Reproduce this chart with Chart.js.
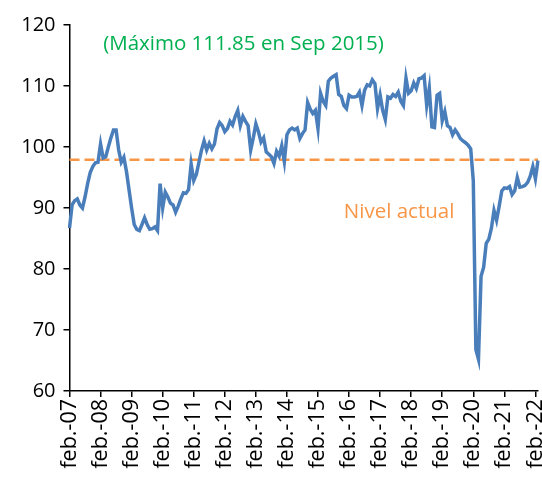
<!DOCTYPE html>
<html>
<head>
<meta charset="utf-8">
<script src="https://cdn.jsdelivr.net/npm/chart.js@4"></script>
<style>
  html, body { margin: 0; padding: 0; background: #fff; }
  #wrap { width: 542px; height: 481px; }
</style>
</head>
<body>
<div id="wrap"><canvas id="c" width="542" height="481"></canvas></div>
<script>
// ---- data ----
const monthNames = ['ene.','feb.','mar.','abr.','may.','jun.','jul.','ago.','sep.','oct.','nov.','dic.'];
const startYear = 2007;   // series starts feb-07
const startMonth = 1;     // index into monthNames
const values = [
  86.7, 90.5, 91.2, 91.5, 90.5, 90.0, 91.8, 94.0, 95.8, 96.8, 97.4, 97.5,
  100.5, 98.2, 98.4, 100.0, 101.5, 102.8, 102.8, 99.5, 97.5, 98.3, 96.0, 93.0,
  90.0, 87.3, 86.5, 86.3, 87.3, 88.4, 87.3, 86.5, 86.6, 86.9, 86.3, 94.0,
  90.0, 92.6, 91.8, 90.8, 90.5, 89.3, 90.3, 91.5, 92.5, 92.4, 93.0, 97.2,
  94.5, 95.5, 97.5, 99.5, 101.0, 99.5, 100.6, 99.7, 100.5, 103.0, 104.0, 103.5,
  102.5, 103.0, 104.2, 103.6, 105.0, 106.0, 103.5, 105.0, 104.2, 103.5, 99.5, 101.5,
  103.8, 102.5, 100.8, 101.5, 99.2, 98.8, 98.4, 97.3, 99.3, 98.5, 100.2, 97.6,
  102.0, 102.8, 103.1, 102.8, 103.1, 101.4, 102.2, 102.8, 107.3, 106.2, 105.5, 106.0,
  103.0, 108.8, 107.5, 106.8, 110.8, 111.3, 111.6, 111.85, 108.6, 108.3, 106.8, 106.3,
  108.5, 108.2, 108.2, 108.3, 109.0, 106.8, 109.3, 110.2, 110.0, 111.0, 110.4, 106.3,
  108.5, 106.0, 104.5, 108.2, 108.0, 108.6, 108.3, 109.0, 107.5, 106.8, 111.3, 108.8,
  109.2, 110.5, 109.6, 111.2, 111.3, 111.7, 106.8, 109.6, 103.3, 103.2, 108.5, 108.8,
  104.3, 105.8, 103.5, 103.2, 102.0, 102.8, 102.2, 101.4, 101.0, 100.7, 100.3, 99.7,
  94.5, 66.8, 65.2, 78.8, 80.3, 84.2, 84.9, 86.7, 89.6, 88.0, 90.3, 92.8,
  93.3, 93.2, 93.5, 92.2, 92.8, 95.0, 93.4, 93.5, 93.7, 94.2, 95.2, 96.8,
  94.8, 97.8
];
const nivelActual = 97.9;
const yMin = 60, yMax = 120, yStep = 10;
const maxText = '(Máximo 111.85 en Sep 2015)';
const nivelText = 'Nivel actual';

const labels = values.map((v, i) => {
  const m = startMonth + i;
  const mi = m % 12;
  const yy = (startYear + Math.floor(m / 12)) % 100;
  return monthNames[mi] + '-' + String(yy).padStart(2, '0');
});

const FONT = "'Open Sans', 'Noto Sans', sans-serif";

const textPlugin = {
  id: 'texts',
  afterDatasetsDraw(chart) {
    const { ctx } = chart;
    const xs = chart.scales.x, ys = chart.scales.y;
    ctx.save();
    ctx.font = '20.5px ' + FONT;
    ctx.textBaseline = 'middle';
    ctx.textAlign = 'left';
    ctx.fillStyle = '#00B050';
    ctx.fillText(maxText, xs.getPixelForValue(13), ys.getPixelForValue(116.9));
    ctx.fillStyle = '#F79646';
    ctx.fillText(nivelText, xs.getPixelForValue(106), ys.getPixelForValue(89.3));
    ctx.restore();
  }
};

new Chart(document.getElementById('c'), {
  type: 'line',
  data: {
    labels: labels,
    datasets: [
      {
        data: values,
        borderColor: '#4A7EBB',
        borderWidth: 3.5,
        pointRadius: 0,
        tension: 0,
        fill: false
      },
      {
        data: [{ x: labels[0], y: nivelActual }, { x: labels[labels.length - 1], y: nivelActual }],
        borderColor: '#F79646',
        borderWidth: 2.5,
        borderDash: [10, 5],
        pointRadius: 0,
        fill: false
      }
    ]
  },
  options: {
    responsive: false,
    animation: false,
    devicePixelRatio: 1,
    layout: { padding: { top: 25, right: 4, left: 0, bottom: 0 } },
    plugins: { legend: { display: false }, tooltip: { enabled: false } },
    scales: {
      x: {
        type: 'category',
        offset: false,
        grid: { drawOnChartArea: false, drawTicks: true, tickLength: 6, color: '#000', lineWidth: 1.5 },
        border: { display: true, color: '#000', width: 1.5 },
        ticks: {
          autoSkip: false,
          minRotation: 90,
          maxRotation: 90,
          padding: 2,
          color: '#000',
          font: { size: 21.5, family: FONT },
          callback: function (val, idx) { return idx % 12 === 0 ? this.getLabelForValue(val) : null; }
        },
        afterFit: (s) => { s.height = 90; s.paddingLeft = 0; s.paddingRight = 0; }
      },
      y: {
        min: yMin,
        max: yMax,
        grid: { drawOnChartArea: false, drawTicks: true, tickLength: 6, color: '#000', lineWidth: 1.5 },
        border: { display: true, color: '#000', width: 1.5 },
        ticks: { stepSize: yStep, padding: 8, color: '#000', font: { size: 20, family: FONT } },
        afterFit: (s) => { s.width = 69.5; }
      }
    }
  },
  plugins: [textPlugin]
});
</script>
</body>
</html>
